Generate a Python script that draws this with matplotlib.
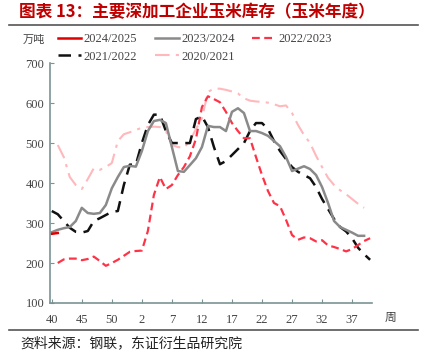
import matplotlib
matplotlib.use("Agg")
import matplotlib.pyplot as plt
import numpy as np

plt.rcParams['font.family'] = ['Liberation Serif', 'Noto Sans CJK SC']

weeks = [str(w) for w in list(range(40, 54)) + list(range(1, 41))]
nan = np.nan

s2425 = [273, 275] + [nan] * 52

s2324 = [277, 283, 287, 290, 305, 338, 325, 323, 325, 345,
         387, 415, 440, 443, 441, 480, 530, 555, 558, 550,
         490, 430, 428, 445, 462, 490, 543, 540, 540, 530,
         578, 587, 575, 530, 530, 525, 518, 505, 492, 465,
         430, 436, 442, 435, 420, 390, 350, 305, 290, 283,
         276, 268, 268, nan]

s2223 = [nan, 200, 209, 211, 211, 207, 210, 216, 205, 193,
         200, 208, 218, 228, 230, 231, 280, 370, 415, 385,
         395, 420, 440, 467, 510, 590, 617, 610, 602, 578,
         550, 530, 512, 512, 465, 420, 380, 350, 342, 308,
         270, 258, 264, 262, 254, 257, 244, 240, 235, 229,
         235, 245, 255, 262]

s2122 = [330, 322, 305, 288, 278, 276, 280, 305, 312, 320,
         328, 330, 395, 446, 446, 500, 545, 571, 571, 530,
         500, 500, 500, 500, 560, 567, 540, 490, 447, 455,
         470, 485, 500, 530, 550, 550, 535, 505, 480, 460,
         440, 428, 420, 412, 390, 360, 335, 310, 290, 279,
         262, 238, 222, 208]

s2021 = [nan, 495, 465, 415, 395, 385, 410, 437, 433, 440,
         450, 505, 522, 527, 533, 538, 540, 541, 540, 530,
         495, 490, 488, 505, 535, 562, 628, 636, 636, 633,
         629, 624, 612, 606, 604, 603, 601, 597, 592, 594,
         575, 545, 520, 500, 468, 440, 413, 395, 382, 372,
         360, 348, 338, nan]

labels = ['2024/2025', '2023/2024', '2022/2023', '2021/2022', '2020/2021']
yticks = [100, 200, 300, 400, 500, 600, 700]

fig = plt.figure(figsize=(4.27, 3.57), dpi=100)
ax = fig.add_axes([0.117, 0.1513, 0.754, 0.672])

x = np.arange(len(weeks))
l5, = ax.plot(x, s2021, color='#ffb8bb', lw=1.5, dashes=(7, 3, 1.5, 3), label=labels[4])
l4, = ax.plot(x, s2122, color='#111111', lw=1.8, dashes=(5, 3), label=labels[3])
l3, = ax.plot(x, s2223, color='#ff3347', lw=1.6, dashes=(3.5, 2), label=labels[2])
l2, = ax.plot(x, s2324, color='#8a8a8a', lw=1.8, label=labels[1])
l1, = ax.plot(x, s2425, color='#e00000', lw=1.8, label=labels[0])

ax.set_xlim(-0.3, 53.3)
ax.set_ylim(100, 700)
ax.set_yticks(yticks)
ax.set_yticklabels([str(v) for v in yticks])
ax.set_xticks(x[::5])
ax.set_xticklabels(weeks[::5])
for sp in ['top', 'right']:
    ax.spines[sp].set_visible(False)
for sp in ['left', 'bottom']:
    ax.spines[sp].set_color('#7a9494')
    ax.spines[sp].set_linewidth(1.2)
ax.tick_params(axis='both', direction='in', length=3, color='#7a9494',
               labelsize=9, labelcolor='#444444')
ax.tick_params(axis='x', pad=8)
ax.tick_params(axis='y', pad=4)

leg = fig.legend([l1, l4, l2, l5, l3], [labels[0], labels[3], labels[1], labels[4], labels[2]],
                 ncol=3, loc='upper left', bbox_to_anchor=(0.135, 0.907),
                 frameon=False, fontsize=9, handlelength=1.9, handletextpad=0.2,
                 columnspacing=1.4, labelspacing=0.45, borderaxespad=0, borderpad=0)
for t in leg.get_texts():
    t.set_color('#444444')

fig.text(0.053, 0.887, '万吨', fontsize=8, color='#444444', va='center',
         family=['Noto Sans CJK SC'])
fig.text(0.9, 0.112, '周', fontsize=8.5, color='#444444', va='center',
         family=['Noto Sans CJK SC'])

fig.text(0.045, 0.965, '图表 13：主要深加工企业玉米库存（玉米年度）', fontsize=12,
         color='#c00000', fontweight='bold', va='center',
         family=['Noto Sans CJK SC'])
fig.add_artist(plt.Line2D([0.02, 0.98], [0.93, 0.93], color='#555555', lw=1.2))
fig.add_artist(plt.Line2D([0.02, 0.98], [0.075, 0.075], color='#555555', lw=1.2))
fig.text(0.047, 0.038, '资料来源：钢联，东证衍生品研究院', fontsize=10,
         color='#222222', va='center', family=['Noto Sans CJK SC'])

fig.savefig('out.png', dpi=100)
